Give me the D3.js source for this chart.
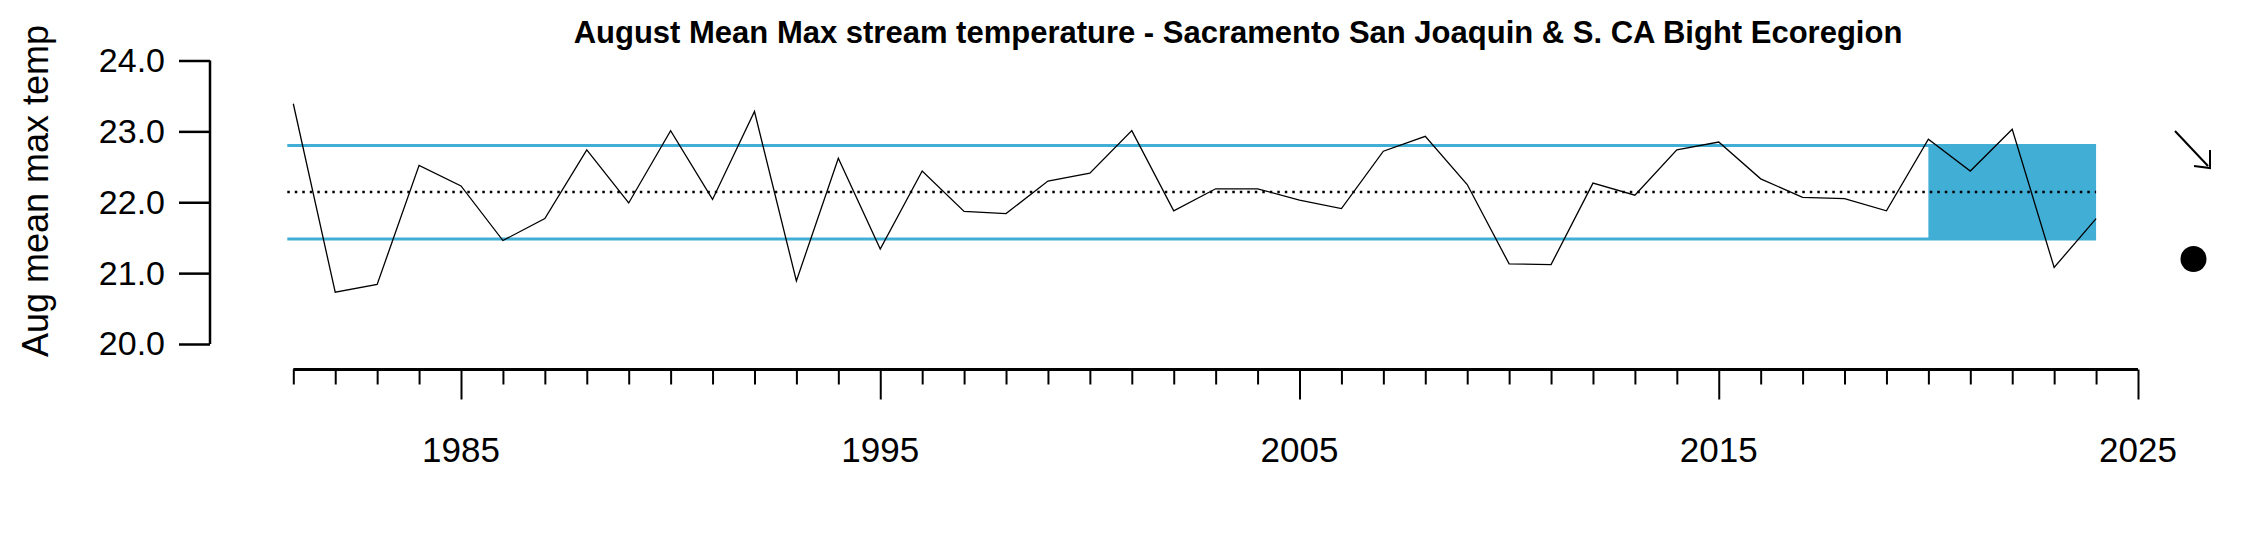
<!DOCTYPE html>
<html><head><meta charset="utf-8">
<script src="https://cdn.jsdelivr.net/npm/d3@7"></script>
<style>body{margin:0;background:#fff}</style>
</head><body>
<svg id="chart" width="2250" height="540"></svg>
<script>
const years = d3.range(1981, 2025);
const temps = [23.39,20.73,20.84,22.52,22.23,21.46,21.77,22.74,21.99,23.01,22.04,23.28,20.89,22.62,21.34,22.44,21.87,21.84,22.30,22.41,23.01,21.88,22.19,22.19,22.03,21.91,22.72,22.93,22.25,21.13,21.12,22.27,22.10,22.74,22.85,22.33,22.07,22.05,21.88,22.89,22.44,23.03,21.08,21.77];
const meanVal = 22.145, upperSd = 22.80, lowerSd = 21.48;
const yTicks = [20, 21, 22, 23, 24];
const xLabels = [1985, 1995, 2005, 2015, 2025];
const recentStart = 2020, recentEnd = 2024;

const svg = d3.select("#chart");
const font = "Liberation Sans, Arial, sans-serif";
const x = d3.scaleLinear().domain([1985, 2025]).range([461, 2138]);
const y = d3.scaleLinear().domain([20, 24]).range([344, 60.5]);
const blue = "#41aed6";

// recent-years box
svg.append("rect")
  .attr("x", x(recentStart)).attr("y", y(upperSd))
  .attr("width", x(recentEnd) - x(recentStart)).attr("height", y(lowerSd) - y(upperSd))
  .attr("fill", blue);

// sd lines
[upperSd, lowerSd].forEach(v => {
  svg.append("line").attr("x1", x(1981) - 6).attr("x2", x(2024))
    .attr("y1", y(v)).attr("y2", y(v)).attr("stroke", blue).attr("stroke-width", 3);
});

// mean
svg.append("line").attr("x1", x(1981) - 6).attr("x2", x(2024))
  .attr("y1", y(meanVal)).attr("y2", y(meanVal))
  .attr("stroke", "black").attr("stroke-width", 2.5).attr("stroke-dasharray", "2.5,5");

// series
svg.append("path").datum(years.map((d, i) => [d, temps[i]]))
  .attr("d", d3.line().x(d => x(d[0])).y(d => y(d[1])))
  .attr("fill", "none").attr("stroke", "black").attr("stroke-width", 1.3);

// y axis
const yAxis = svg.append("g").attr("transform", "translate(210,0)")
  .call(d3.axisLeft(y).tickValues(yTicks).tickSize(31).tickPadding(14));
yAxis.select(".domain").attr("stroke-width", 2.5).attr("d", `M0,${y(24)}V${y(20)}`);
yAxis.selectAll(".tick line").attr("stroke-width", 2.5);
yAxis.selectAll("text").attr("font-family", font).attr("font-size", 34).attr("fill", "black");

// x axis
const xAxis = svg.append("g").attr("transform", "translate(0,369.5)")
  .call(d3.axisBottom(x).tickValues(d3.range(1981, 2026)).tickSize(15).tickFormat(""));
xAxis.select(".domain").attr("stroke-width", 3).attr("d", `M${x(1981)},0H${x(2025)}`);
xAxis.selectAll(".tick line").attr("stroke-width", 2)
  .attr("y2", d => xLabels.includes(d) ? 30 : 15);
svg.append("g").selectAll("text").data(xLabels).join("text")
  .attr("x", d => x(d)).attr("y", 462).attr("text-anchor", "middle")
  .attr("font-family", font).attr("font-size", 35).text(d => d);

// titles
svg.append("text").attr("x", 1238).attr("y", 43).attr("text-anchor", "middle")
  .attr("font-family", font).attr("font-weight", "bold").attr("font-size", 31)
  .text("August Mean Max stream temperature - Sacramento San Joaquin & S. CA Bight Ecoregion");
svg.append("text").attr("transform", "translate(48,191) rotate(-90)").attr("text-anchor", "middle")
  .attr("font-family", font).attr("font-size", 36).text("Aug mean max temp");

// trend arrow and dot
svg.append("line").attr("x1", 2175).attr("y1", 131).attr("x2", 2208).attr("y2", 166)
  .attr("stroke", "black").attr("stroke-width", 2);
svg.append("path").attr("d", "M2194,166L2210,168L2210,150").attr("fill", "none")
  .attr("stroke", "black").attr("stroke-width", 2);
svg.append("circle").attr("cx", 2193.5).attr("cy", 259).attr("r", 13).attr("fill", "black");
</script>
</body></html>
